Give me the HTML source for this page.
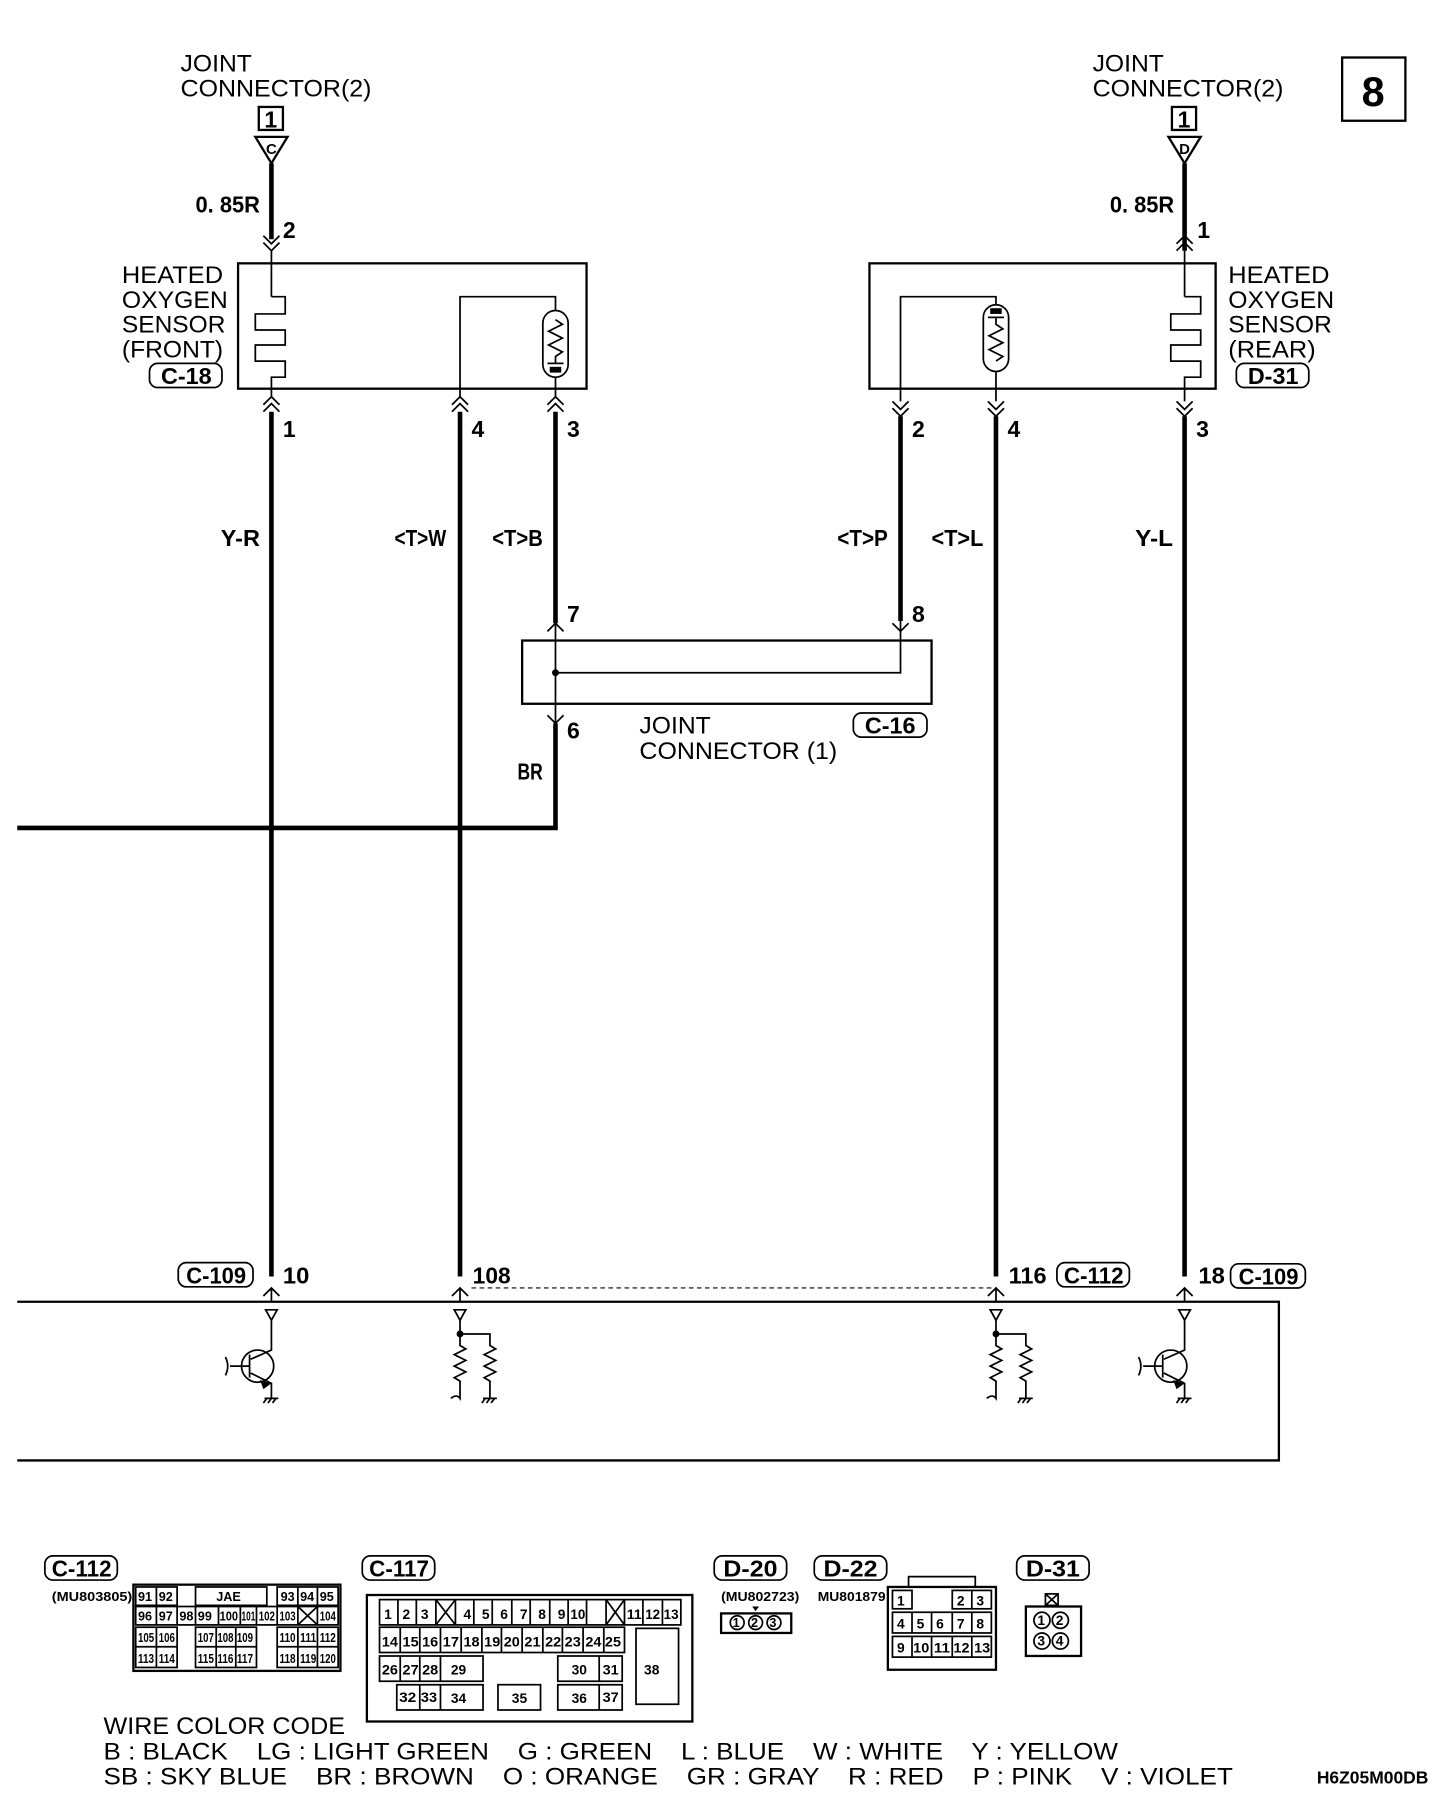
<!DOCTYPE html>
<html><head><meta charset="utf-8"><style>
html,body{margin:0;padding:0;background:#fff;}
svg{display:block;}
text{font-family:"Liberation Sans",sans-serif;fill:#000;}
.t{font-size:21px;}
.b{font-size:20px;font-weight:bold;}
.s{font-size:11px;font-weight:bold;}
.w{stroke:#000;stroke-width:4;fill:none;}
.n{stroke:#000;stroke-width:1.5;fill:none;}
.m{stroke:#000;stroke-width:2;fill:none;}
</style></head><body>
<svg width="1456" height="1802" viewBox="0 0 1266 1567" preserveAspectRatio="none" xmlns="http://www.w3.org/2000/svg">
<rect width="1280" height="1584" fill="#fff"/>

<rect x="1167" y="50" width="55" height="55" class="m"/>
<text x="1194" y="92" class="b" text-anchor="middle" style="font-size:36px">8</text>

<text x="157" y="62" class="t" textLength="62" lengthAdjust="spacingAndGlyphs">JOINT</text>
<text x="157" y="84" class="t" textLength="166" lengthAdjust="spacingAndGlyphs">CONNECTOR(2)</text>
<rect x="225" y="93" width="21" height="20" class="m"/>
<text x="235.5" y="111" class="b" text-anchor="middle">1</text>
<path d="M222 119 L250 119 L236 142 Z" class="m"/>
<text x="236" y="134" class="s" text-anchor="middle" style="font-size:13px">C</text>
<line x1="236" y1="142" x2="236" y2="208" class="w"/>
<text x="170" y="185" class="b" textLength="56" lengthAdjust="spacingAndGlyphs">0. 85R</text>
<text x="246" y="207" class="b">2</text>
<path d="M229 205 L236 212 L243 205 M229 211 L236 218 L243 211" class="n"/>
<line x1="236" y1="218" x2="236" y2="258" class="n"/>

<rect x="207" y="229" width="303" height="109" class="m"/>
<path d="M236 258 H248 V273 H222 V287 H248 V300 H222 V314 H248 V328 H236 V338" class="n"/>
<path d="M400 338 V258 H483 V270" class="n"/>
<rect x="472" y="270" width="22" height="58" rx="11" class="n"/>
<path d="M483 278 l6 4 l-12 6 l12 6 l-12 6 l12 6 l-6 4 V316 M476 316 H490" class="n"/>
<rect x="478" y="319" width="10" height="5" fill="#000"/>
<line x1="483" y1="328" x2="483" y2="338" class="n"/>
<text x="106" y="246" class="t" textLength="88" lengthAdjust="spacingAndGlyphs">HEATED</text>
<text x="106" y="268" class="t" textLength="92" lengthAdjust="spacingAndGlyphs">OXYGEN</text>
<text x="106" y="289" class="t" textLength="90" lengthAdjust="spacingAndGlyphs">SENSOR</text>
<text x="106" y="311" class="t" textLength="88" lengthAdjust="spacingAndGlyphs">(FRONT)</text>
<rect x="130" y="316" width="63" height="21" rx="7" class="n"/>
<text x="140" y="334" class="b" textLength="44" lengthAdjust="spacingAndGlyphs">C-18</text>

<g class="n">
<path d="M229 352 L236 345 L243 352 M229 358 L236 351 L243 358"/>
<path d="M393 352 L400 345 L407 352 M393 358 L400 351 L407 358"/>
<path d="M476 352 L483 345 L490 352 M476 358 L483 351 L490 358"/>
</g>
<line x1="236" y1="338" x2="236" y2="345" class="n"/>
<line x1="400" y1="338" x2="400" y2="345" class="n"/>
<line x1="483" y1="338" x2="483" y2="345" class="n"/>
<text x="246" y="380" class="b">1</text>
<text x="410" y="380" class="b">4</text>
<text x="493" y="380" class="b">3</text>

<text x="950" y="62" class="t" textLength="62" lengthAdjust="spacingAndGlyphs">JOINT</text>
<text x="950" y="84" class="t" textLength="166" lengthAdjust="spacingAndGlyphs">CONNECTOR(2)</text>
<rect x="1019" y="93" width="21" height="20" class="m"/>
<text x="1029.5" y="111" class="b" text-anchor="middle">1</text>
<path d="M1016 119 L1044 119 L1030 142 Z" class="m"/>
<text x="1030" y="134" class="s" text-anchor="middle" style="font-size:13px">D</text>
<line x1="1030" y1="142" x2="1030" y2="218" class="w"/>
<text x="965" y="185" class="b" textLength="56" lengthAdjust="spacingAndGlyphs">0. 85R</text>
<text x="1041" y="207" class="b">1</text>
<path d="M1023 212 L1030 205 L1037 212 M1023 218 L1030 211 L1037 218" class="n"/>
<line x1="1030" y1="218" x2="1030" y2="258" class="n"/>

<rect x="756" y="229" width="301" height="109" class="m"/>
<path d="M1030 258 H1044 V273 H1018 V287 H1044 V300 H1018 V314 H1044 V328 H1030 V338" class="n"/>
<path d="M783 338 V258 H866 V265" class="n"/>
<rect x="855" y="265" width="22" height="58" rx="11" class="n"/>
<rect x="861" y="268" width="10" height="5" fill="#000"/>
<path d="M859 276 H873 M866 276 V282 l6 4 l-12 6 l12 6 l-12 6 l12 6 l-6 4" class="n"/>
<line x1="866" y1="323" x2="866" y2="338" class="n"/>
<text x="1068" y="246" class="t" textLength="88" lengthAdjust="spacingAndGlyphs">HEATED</text>
<text x="1068" y="268" class="t" textLength="92" lengthAdjust="spacingAndGlyphs">OXYGEN</text>
<text x="1068" y="289" class="t" textLength="90" lengthAdjust="spacingAndGlyphs">SENSOR</text>
<text x="1068" y="311" class="t" textLength="76" lengthAdjust="spacingAndGlyphs">(REAR)</text>
<rect x="1075" y="316" width="63" height="21" rx="7" class="n"/>
<text x="1085" y="334" class="b" textLength="44" lengthAdjust="spacingAndGlyphs">D-31</text>

<g class="n">
<path d="M776 349 L783 356 L790 349 M776 355 L783 362 L790 355"/>
<path d="M859 349 L866 356 L873 349 M859 355 L866 362 L873 355"/>
<path d="M1023 349 L1030 356 L1037 349 M1023 355 L1030 362 L1037 355"/>
</g>
<line x1="783" y1="338" x2="783" y2="349" class="n"/>
<line x1="866" y1="338" x2="866" y2="349" class="n"/>
<line x1="1030" y1="338" x2="1030" y2="349" class="n"/>
<text x="793" y="380" class="b">2</text>
<text x="876" y="380" class="b">4</text>
<text x="1040" y="380" class="b">3</text>

<line x1="236" y1="358" x2="236" y2="1110" class="w"/>
<line x1="400" y1="358" x2="400" y2="1110" class="w"/>
<line x1="483" y1="358" x2="483" y2="542" class="w"/>
<line x1="783" y1="362" x2="783" y2="540" class="w"/>
<line x1="866" y1="362" x2="866" y2="1110" class="w"/>
<line x1="1030" y1="362" x2="1030" y2="1110" class="w"/>

<text x="192" y="475" class="b" textLength="34" lengthAdjust="spacingAndGlyphs">Y-R</text>
<text x="343" y="475" class="b" textLength="45" lengthAdjust="spacingAndGlyphs">&lt;T&gt;W</text>
<text x="428" y="475" class="b" textLength="44" lengthAdjust="spacingAndGlyphs">&lt;T&gt;B</text>
<text x="728" y="475" class="b" textLength="44" lengthAdjust="spacingAndGlyphs">&lt;T&gt;P</text>
<text x="810" y="475" class="b" textLength="45" lengthAdjust="spacingAndGlyphs">&lt;T&gt;L</text>
<text x="987" y="475" class="b" textLength="33" lengthAdjust="spacingAndGlyphs">Y-L</text>

<path d="M476 549 L483 542 L490 549" class="n"/>
<line x1="483" y1="542" x2="483" y2="557" class="n"/>
<path d="M776 542 L783 549 L790 542" class="n"/>
<line x1="783" y1="540" x2="783" y2="557" class="n"/>
<text x="493" y="541" class="b">7</text>
<text x="793" y="541" class="b">8</text>
<rect x="454" y="557" width="356" height="55" class="m"/>
<path d="M483 557 V585 H783 V557" class="n"/>
<circle cx="483" cy="585" r="3" fill="#000"/>
<line x1="483" y1="585" x2="483" y2="630" class="n"/>
<path d="M476 622 L483 629 L490 622" class="n"/>
<text x="493" y="642" class="b">6</text>
<path d="M483 629 V720 H15" class="w"/>
<text x="450" y="678" class="b" textLength="22" lengthAdjust="spacingAndGlyphs">BR</text>
<text x="556" y="638" class="t" textLength="62" lengthAdjust="spacingAndGlyphs">JOINT</text>
<text x="556" y="660" class="t" textLength="172" lengthAdjust="spacingAndGlyphs">CONNECTOR (1)</text>
<rect x="742" y="620" width="64" height="21" rx="7" class="n"/>
<text x="752" y="638" class="b" textLength="44" lengthAdjust="spacingAndGlyphs">C-16</text>

<rect x="155" y="1098" width="65" height="21" rx="7" class="n"/>
<text x="162" y="1116" class="b" textLength="52" lengthAdjust="spacingAndGlyphs">C-109</text>
<text x="246" y="1116" class="b" textLength="23" lengthAdjust="spacingAndGlyphs">10</text>
<text x="411" y="1116" class="b" textLength="33" lengthAdjust="spacingAndGlyphs">108</text>
<text x="877" y="1116" class="b" textLength="33" lengthAdjust="spacingAndGlyphs">116</text>
<rect x="919" y="1098" width="63" height="21" rx="7" class="n"/>
<text x="925" y="1116" class="b" textLength="52" lengthAdjust="spacingAndGlyphs">C-112</text>
<text x="1042" y="1116" class="b" textLength="23" lengthAdjust="spacingAndGlyphs">18</text>
<rect x="1070" y="1099" width="65" height="21" rx="7" class="n"/>
<text x="1077" y="1117" class="b" textLength="52" lengthAdjust="spacingAndGlyphs">C-109</text>
<line x1="410" y1="1120" x2="862" y2="1120" stroke="#000" stroke-width="1" stroke-dasharray="4,3"/>
<g class="n">
<path d="M229 1127 L236 1120 L243 1127 M236 1120 V1132"/>
<path d="M393 1127 L400 1120 L407 1127 M400 1120 V1132"/>
<path d="M859 1127 L866 1120 L873 1127 M866 1120 V1132"/>
<path d="M1023 1127 L1030 1120 L1037 1127 M1030 1120 V1132"/>
</g>

<path d="M15 1132 H1112 V1270 H15" class="m"/>

<g class="n">
<path d="M231 1139 H241 L236 1148 Z"/>
<path d="M236 1148 V1174 L218 1182"/>
<circle cx="224" cy="1188" r="14"/>
<path d="M217 1178 V1198 M200 1188 H217"/>
<path d="M196 1180 q4 8 0 16"/>
<path d="M218 1194 L236 1203 V1216"/>
<path d="M230 1216 H242 M232 1216 l-3 4 M236 1216 l-3 4 M240 1216 l-3 4"/>

<path d="M1025 1139 H1035 L1030 1148 Z"/>
<path d="M1030 1148 V1174 L1012 1182"/>
<circle cx="1018" cy="1188" r="14"/>
<path d="M1011 1178 V1198 M994 1188 H1011"/>
<path d="M990 1180 q4 8 0 16"/>
<path d="M1012 1194 L1030 1203 V1216"/>
<path d="M1024 1216 H1036 M1026 1216 l-3 4 M1030 1216 l-3 4 M1034 1216 l-3 4"/>
</g>
<path d="M226 1200 l10 3 l-7 5" fill="#000"/>
<path d="M1020 1200 l10 3 l-7 5" fill="#000"/>

<g class="n">
<path d="M395 1139 H405 L400 1148 Z"/>
<path d="M400 1148 V1160 H426 V1170 l5 3 l-10 5 l10 5 l-10 5 l10 5 l-10 5 l5 3 V1216"/>
<path d="M420 1216 H432 M422 1216 l-3 4 M426 1216 l-3 4 M430 1216 l-3 4"/>
<path d="M400 1160 V1170 l5 3 l-10 5 l10 5 l-10 5 l10 5 l-10 5 l5 3 V1216 q-3 -4 -8 0"/>
<path d="M861 1139 H871 L866 1148 Z"/>
<path d="M866 1148 V1160 H892 V1170 l5 3 l-10 5 l10 5 l-10 5 l10 5 l-10 5 l5 3 V1216"/>
<path d="M886 1216 H898 M888 1216 l-3 4 M892 1216 l-3 4 M896 1216 l-3 4"/>
<path d="M866 1160 V1170 l5 3 l-10 5 l10 5 l-10 5 l10 5 l-10 5 l5 3 V1216 q-3 -4 -8 0"/>
</g>
<circle cx="400" cy="1160" r="3" fill="#000"/>
<circle cx="866" cy="1160" r="3" fill="#000"/>

<rect x="39" y="1353" width="63" height="21" rx="7" class="n"/>
<text x="45" y="1371" class="b" textLength="52" lengthAdjust="spacingAndGlyphs">C-112</text>
<text x="45" y="1392" class="s" textLength="70" lengthAdjust="spacingAndGlyphs">(MU803805)</text>
<rect x="116" y="1378" width="180" height="75" class="m"/>
<g class="n">
<rect x="118" y="1380" width="36" height="16"/><line x1="136" y1="1380" x2="136" y2="1396"/>
<rect x="170" y="1380" width="62" height="16"/>
<rect x="241" y="1380" width="53" height="16"/><line x1="259" y1="1380" x2="259" y2="1396"/><line x1="276" y1="1380" x2="276" y2="1396"/>
<rect x="118" y="1397" width="176" height="16"/>
<path d="M136 1397V1413 M154 1397V1413 M170 1397V1413 M190 1397V1413 M209 1397V1413 M223 1397V1413 M241 1397V1413 M259 1397V1413 M276 1397V1413 M259 1397 L276 1413 M276 1397 L259 1413"/>
<rect x="118" y="1415" width="36" height="35"/><line x1="118" y1="1432" x2="154" y2="1432"/><line x1="136" y1="1415" x2="136" y2="1450"/>
<rect x="170" y="1415" width="53" height="35"/><line x1="170" y1="1432" x2="223" y2="1432"/><line x1="188" y1="1415" x2="188" y2="1450"/><line x1="205" y1="1415" x2="205" y2="1450"/>
<rect x="241" y="1415" width="53" height="35"/><line x1="241" y1="1432" x2="294" y2="1432"/><line x1="259" y1="1415" x2="259" y2="1450"/><line x1="276" y1="1415" x2="276" y2="1450"/>
</g>
<g class="s" style="font-size:11px">
<text x="120" y="1392">91</text><text x="138" y="1392">92</text><text x="188" y="1392">JAE</text><text x="244" y="1392">93</text><text x="261" y="1392">94</text><text x="278" y="1392">95</text>
<text x="120" y="1409">96</text><text x="138" y="1409">97</text><text x="156" y="1409">98</text><text x="172" y="1409">99</text><text x="191" y="1409" textLength="16" lengthAdjust="spacingAndGlyphs">100</text><text x="210" y="1409" textLength="12" lengthAdjust="spacingAndGlyphs">101</text><text x="225" y="1409" textLength="14" lengthAdjust="spacingAndGlyphs">102</text><text x="243" y="1409" textLength="14" lengthAdjust="spacingAndGlyphs">103</text><text x="278" y="1409" textLength="14" lengthAdjust="spacingAndGlyphs">104</text>
<text x="120" y="1428" textLength="14" lengthAdjust="spacingAndGlyphs">105</text><text x="138" y="1428" textLength="14" lengthAdjust="spacingAndGlyphs">106</text><text x="172" y="1428" textLength="14" lengthAdjust="spacingAndGlyphs">107</text><text x="189" y="1428" textLength="14" lengthAdjust="spacingAndGlyphs">108</text><text x="206" y="1428" textLength="14" lengthAdjust="spacingAndGlyphs">109</text><text x="243" y="1428" textLength="14" lengthAdjust="spacingAndGlyphs">110</text><text x="261" y="1428" textLength="14" lengthAdjust="spacingAndGlyphs">111</text><text x="278" y="1428" textLength="14" lengthAdjust="spacingAndGlyphs">112</text>
<text x="120" y="1446" textLength="14" lengthAdjust="spacingAndGlyphs">113</text><text x="138" y="1446" textLength="14" lengthAdjust="spacingAndGlyphs">114</text><text x="172" y="1446" textLength="14" lengthAdjust="spacingAndGlyphs">115</text><text x="189" y="1446" textLength="14" lengthAdjust="spacingAndGlyphs">116</text><text x="206" y="1446" textLength="14" lengthAdjust="spacingAndGlyphs">117</text><text x="243" y="1446" textLength="14" lengthAdjust="spacingAndGlyphs">118</text><text x="261" y="1446" textLength="14" lengthAdjust="spacingAndGlyphs">119</text><text x="278" y="1446" textLength="14" lengthAdjust="spacingAndGlyphs">120</text>
</g>

<rect x="315" y="1353" width="63" height="21" rx="7" class="n"/>
<text x="321" y="1371" class="b" textLength="52" lengthAdjust="spacingAndGlyphs">C-117</text>
<rect x="319" y="1387" width="283" height="110" class="m"/>
<g class="n">
<rect x="330" y="1391" width="262" height="22"/>
<path d="M346 1391V1413 M362 1391V1413 M379 1391V1413 M396 1391V1413 M412 1391V1413 M428 1391V1413 M445 1391V1413 M461 1391V1413 M478 1391V1413 M494 1391V1413 M510 1391V1413 M527 1391V1413 M543 1391V1413 M559 1391V1413 M576 1391V1413"/>
<path d="M379 1391 L396 1413 M396 1391 L379 1413 M527 1391 L543 1413 M543 1391 L527 1413"/>
<rect x="330" y="1415" width="213" height="22"/>
<path d="M348 1415V1437 M365 1415V1437 M383 1415V1437 M401 1415V1437 M419 1415V1437 M436 1415V1437 M454 1415V1437 M472 1415V1437 M489 1415V1437 M507 1415V1437 M525 1415V1437"/>
<rect x="553" y="1416" width="37" height="66"/>
<path d="M330 1440 H420 V1462 H330 Z M348 1440V1462 M365 1440V1462 M383 1440V1462"/>
<path d="M485 1440 H541 V1462 H485 Z M521 1440V1462"/>
<path d="M345 1465 H420 V1487 H345 Z M365 1465V1487 M383 1465V1487"/>
<rect x="433" y="1465" width="37" height="22"/>
<path d="M485 1465 H541 V1487 H485 Z M521 1465V1487"/>
</g>
<g class="s" style="font-size:12px">
<text x="334" y="1408">1</text><text x="350" y="1408">2</text><text x="366" y="1408">3</text><text x="403" y="1408">4</text><text x="419" y="1408">5</text><text x="435" y="1408">6</text><text x="452" y="1408">7</text><text x="468" y="1408">8</text><text x="485" y="1408">9</text><text x="496" y="1408" textLength="13" lengthAdjust="spacingAndGlyphs">10</text><text x="545" y="1408" textLength="13" lengthAdjust="spacingAndGlyphs">11</text><text x="561" y="1408" textLength="13" lengthAdjust="spacingAndGlyphs">12</text><text x="577" y="1408" textLength="13" lengthAdjust="spacingAndGlyphs">13</text>
<text x="332" y="1432" textLength="14" lengthAdjust="spacingAndGlyphs">14</text><text x="350" y="1432" textLength="14" lengthAdjust="spacingAndGlyphs">15</text><text x="367" y="1432" textLength="14" lengthAdjust="spacingAndGlyphs">16</text><text x="385" y="1432" textLength="14" lengthAdjust="spacingAndGlyphs">17</text><text x="403" y="1432" textLength="14" lengthAdjust="spacingAndGlyphs">18</text><text x="421" y="1432" textLength="14" lengthAdjust="spacingAndGlyphs">19</text><text x="438" y="1432" textLength="14" lengthAdjust="spacingAndGlyphs">20</text><text x="456" y="1432" textLength="14" lengthAdjust="spacingAndGlyphs">21</text><text x="474" y="1432" textLength="14" lengthAdjust="spacingAndGlyphs">22</text><text x="491" y="1432" textLength="14" lengthAdjust="spacingAndGlyphs">23</text><text x="509" y="1432" textLength="14" lengthAdjust="spacingAndGlyphs">24</text><text x="526" y="1432" textLength="14" lengthAdjust="spacingAndGlyphs">25</text>
<text x="332" y="1456" textLength="14" lengthAdjust="spacingAndGlyphs">26</text><text x="350" y="1456" textLength="14" lengthAdjust="spacingAndGlyphs">27</text><text x="367" y="1456" textLength="14" lengthAdjust="spacingAndGlyphs">28</text><text x="392" y="1456">29</text><text x="497" y="1456">30</text><text x="524" y="1456" textLength="14" lengthAdjust="spacingAndGlyphs">31</text><text x="560" y="1456">38</text>
<text x="347" y="1480" textLength="15" lengthAdjust="spacingAndGlyphs">32</text><text x="366" y="1480" textLength="14" lengthAdjust="spacingAndGlyphs">33</text><text x="392" y="1481">34</text><text x="445" y="1481">35</text><text x="497" y="1481">36</text><text x="524" y="1480" textLength="14" lengthAdjust="spacingAndGlyphs">37</text>
</g>

<rect x="621" y="1353" width="63" height="21" rx="7" class="n"/>
<text x="629" y="1371" class="b" textLength="47" lengthAdjust="spacingAndGlyphs">D-20</text>
<text x="627" y="1392" class="s" textLength="68" lengthAdjust="spacingAndGlyphs">(MU802723)</text>
<rect x="627" y="1403" width="61" height="17" class="m"/>
<path d="M654 1397 h6 l-3 4 z" fill="#000"/>
<g class="n"><circle cx="641" cy="1411" r="6"/><circle cx="657" cy="1411" r="6"/><circle cx="673" cy="1411" r="6"/></g>
<g class="s" style="font-size:11px"><text x="637" y="1415">1</text><text x="653" y="1415">2</text><text x="669" y="1415">3</text></g>

<rect x="708" y="1353" width="63" height="21" rx="7" class="n"/>
<text x="716" y="1371" class="b" textLength="47" lengthAdjust="spacingAndGlyphs">D-22</text>
<text x="711" y="1392" class="s" textLength="59" lengthAdjust="spacingAndGlyphs">MU801879</text>
<rect x="772" y="1380" width="94" height="72" class="m"/>
<path d="M790 1380 V1371 H848 V1380" class="n"/>
<g class="n">
<rect x="776" y="1383" width="17" height="16"/>
<rect x="828" y="1383" width="34" height="16"/><line x1="845" y1="1383" x2="845" y2="1399"/>
<rect x="776" y="1402" width="86" height="18"/>
<path d="M793 1402V1420 M810 1402V1420 M828 1402V1420 M845 1402V1420"/>
<rect x="776" y="1423" width="86" height="18"/>
<path d="M793 1423V1441 M810 1423V1441 M828 1423V1441 M845 1423V1441"/>
</g>
<g class="s" style="font-size:12px">
<text x="780" y="1396">1</text><text x="832" y="1396">2</text><text x="849" y="1396">3</text>
<text x="780" y="1416">4</text><text x="797" y="1416">5</text><text x="814" y="1416">6</text><text x="832" y="1416">7</text><text x="849" y="1416">8</text>
<text x="780" y="1437">9</text><text x="794" y="1437" textLength="14" lengthAdjust="spacingAndGlyphs">10</text><text x="812" y="1437" textLength="14" lengthAdjust="spacingAndGlyphs">11</text><text x="829" y="1437" textLength="14" lengthAdjust="spacingAndGlyphs">12</text><text x="847" y="1437" textLength="14" lengthAdjust="spacingAndGlyphs">13</text>
</g>

<rect x="884" y="1353" width="63" height="21" rx="7" class="n"/>
<text x="892" y="1371" class="b" textLength="47" lengthAdjust="spacingAndGlyphs">D-31</text>
<rect x="909" y="1386" width="11" height="10" class="n"/>
<path d="M909 1386 L920 1396 M920 1386 L909 1396" class="n"/>
<rect x="892" y="1397" width="48" height="43" class="m"/>
<g class="n"><circle cx="906" cy="1409" r="7"/><circle cx="922" cy="1409" r="7"/><circle cx="906" cy="1427" r="7"/><circle cx="922" cy="1427" r="7"/></g>
<g class="s" style="font-size:12px"><text x="902" y="1413">1</text><text x="918" y="1413">2</text><text x="902" y="1431">3</text><text x="918" y="1431">4</text></g>

<text x="90" y="1508" class="t" textLength="210" lengthAdjust="spacingAndGlyphs">WIRE COLOR CODE</text>
<text x="90" y="1530" class="t" textLength="882" lengthAdjust="spacingAndGlyphs" xml:space="preserve">B : BLACK    LG : LIGHT GREEN    G : GREEN    L : BLUE    W : WHITE    Y : YELLOW</text>
<text x="90" y="1552" class="t" textLength="982" lengthAdjust="spacingAndGlyphs" xml:space="preserve">SB : SKY BLUE    BR : BROWN    O : ORANGE    GR : GRAY    R : RED    P : PINK    V : VIOLET</text>
<text x="1145" y="1551" class="b" style="font-size:15px" textLength="97" lengthAdjust="spacingAndGlyphs">H6Z05M00DB</text>
</svg>
</body></html>
